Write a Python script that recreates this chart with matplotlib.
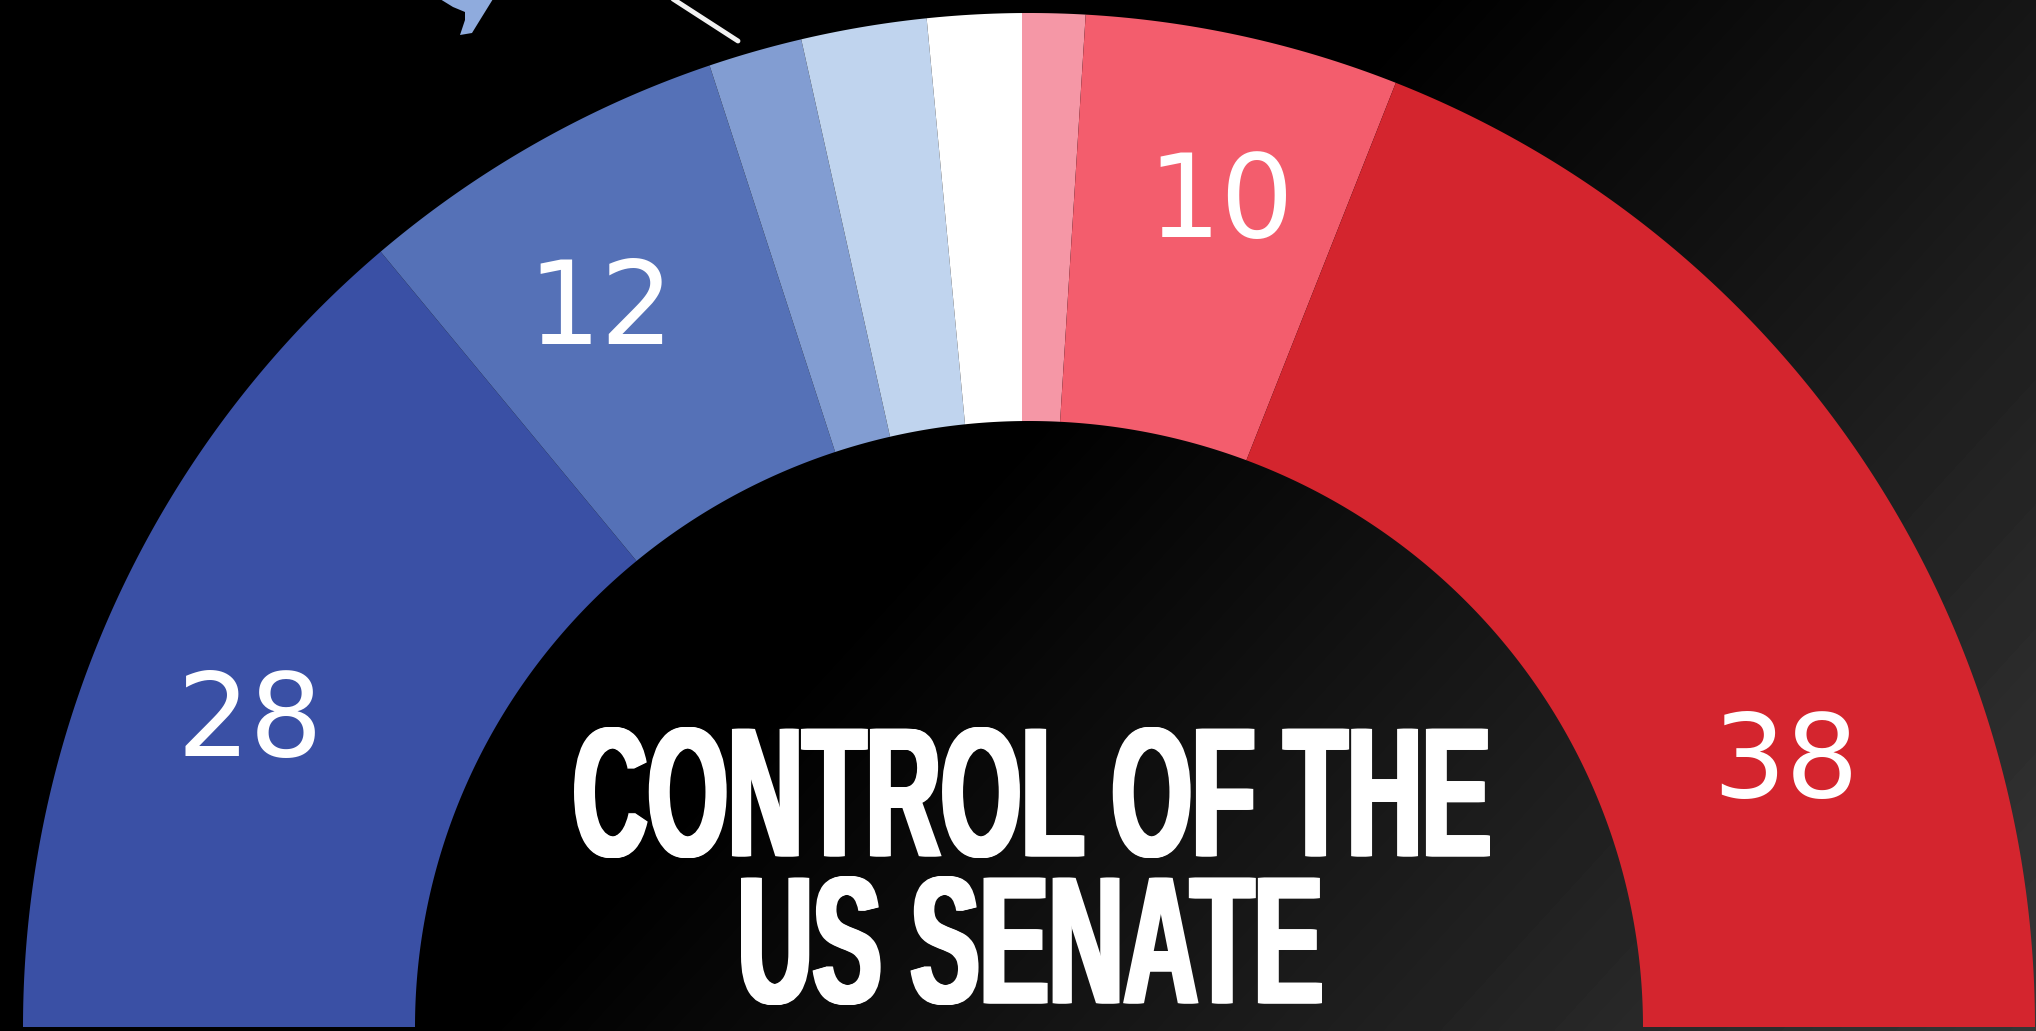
import numpy as np
import matplotlib
matplotlib.use("Agg")
import matplotlib.pyplot as plt
from matplotlib.path import Path
from matplotlib.transforms import Affine2D
from matplotlib.patheffects import AbstractPathEffect

# ---- data ----
categories = ["Safe D", "Likely D", "Lean D", "Tilt D", "Toss-up D", "Toss-up R", "Likely R", "Safe R"]
seats = [28, 12, 3, 4, 3, 2, 10, 38]
colors = ["#3A50A5", "#5571B7", "#829DD2", "#C0D4EE", "#FFFFFF", "#F597A6", "#F35D6D", "#D4252E"]
value_labels = ["28", "12", "", "", "", "", "10", "38"]
title_lines = ["CONTROL OF THE", "US SENATE"]

# ---- layout (pixels, y measured from the top) ----
W, H = 2036, 1031
base_y = 1027
hub_x = 1022
ring_x = 1029
outer_rx, outer_ry = 1006, 1014
inner_rx, inner_ry = 614, 606
label_xy = [(250, 712), (601, 300), None, None, None, None, (1221, 193), (1786, 753)]
title_boxes = [(574, 1490, 727, 858), (741, 1322, 876, 1005)]


def py(y):
    return H - y


class FitBox(AbstractPathEffect):
    """Squeeze the glyphs into a pixel box and thicken the stems sideways."""

    def __init__(self, box, thicken=6, steps=7):
        super().__init__()
        self.box, self.thicken, self.steps = box, thicken, steps

    def draw_path(self, renderer, gc, tpath, affine, rgbFace=None):
        ext = tpath.get_extents(affine)
        x0, x1, y0, y1 = self.box
        t = self.thicken / 2
        sx = (x1 - x0 - 2 * t) / ext.width
        sy = (y1 - y0) / ext.height
        fit = (Affine2D().translate(-ext.x0, -ext.y0).scale(sx, sy)
               .translate(x0 + t, py(y1)))
        for dx in np.linspace(-t, t, self.steps):
            renderer.draw_path(gc, tpath, affine + fit + Affine2D().translate(dx, 0), rgbFace)


fig = plt.figure(figsize=(W / 100, H / 100), dpi=100)
ax = fig.add_axes([0, 0, 1, 1])

# background: soft diagonal sheen from black to dark grey
xx, yy = np.meshgrid(np.arange(W), np.arange(H))
shade = np.clip(0.035 * xx + 0.032 * yy - 49.5, 0, 60) / 255
ax.imshow(shade, cmap="gray", vmin=0, vmax=1, extent=(0, W, 0, H), origin="upper",
          aspect="auto", zorder=0)

# half-donut
wedges, _ = ax.pie([s / 200 for s in seats], colors=colors, startangle=180, counterclock=False,
                   normalize=False, center=(hub_x, py(base_y)), radius=1500,
                   wedgeprops=dict(linewidth=0))
ax.set_aspect("auto")
ax.set_xlim(0, W)
ax.set_ylim(0, H)
ax.set_frame_on(False)
ax.set_xticks([])
ax.set_yticks([])

theta = np.linspace(np.pi, 0, 400)
outer = np.c_[ring_x + outer_rx * np.cos(theta), py(base_y) + outer_ry * np.sin(theta)]
inner = np.c_[ring_x + inner_rx * np.cos(theta[::-1]), py(base_y) + inner_ry * np.sin(theta[::-1])]
ring_vertices = np.vstack([outer, inner, outer[:1]])
ring = Path(ring_vertices, closed=True)
for w in wedges:
    w.set_zorder(2)
    w.set_clip_on(True)
    w.set_clip_path(ring, ax.transData)

for txt, xy in zip(value_labels, label_xy):
    if txt:
        ax.text(xy[0], py(xy[1]), txt, color="#FFFFFF", ha="center", va="center_baseline",
                fontsize=83, family="DejaVu Sans", zorder=3)

# fragments of the cropped decoration above the arc
ax.plot([673, 738], [py(-1), py(41)], color="#F2F2F2", lw=3.5, solid_capstyle="round", zorder=3)
ax.fill([440, 453, 465, 465, 460, 472, 480, 493],
        [py(-1), py(7), py(12), py(20), py(35), py(33), py(20), py(-1)],
        color="#8FABDD", lw=0, zorder=3)

# title
for line, box in zip(title_lines, title_boxes):
    ax.text((box[0] + box[1]) / 2, py((box[2] + box[3]) / 2), line, color="#FFFFFF",
            ha="center", va="center", fontsize=68, fontweight="bold",
            family="Liberation Sans", zorder=4,
            path_effects=[FitBox(box)])

fig.savefig("out.png", dpi=100, facecolor="#000000")
